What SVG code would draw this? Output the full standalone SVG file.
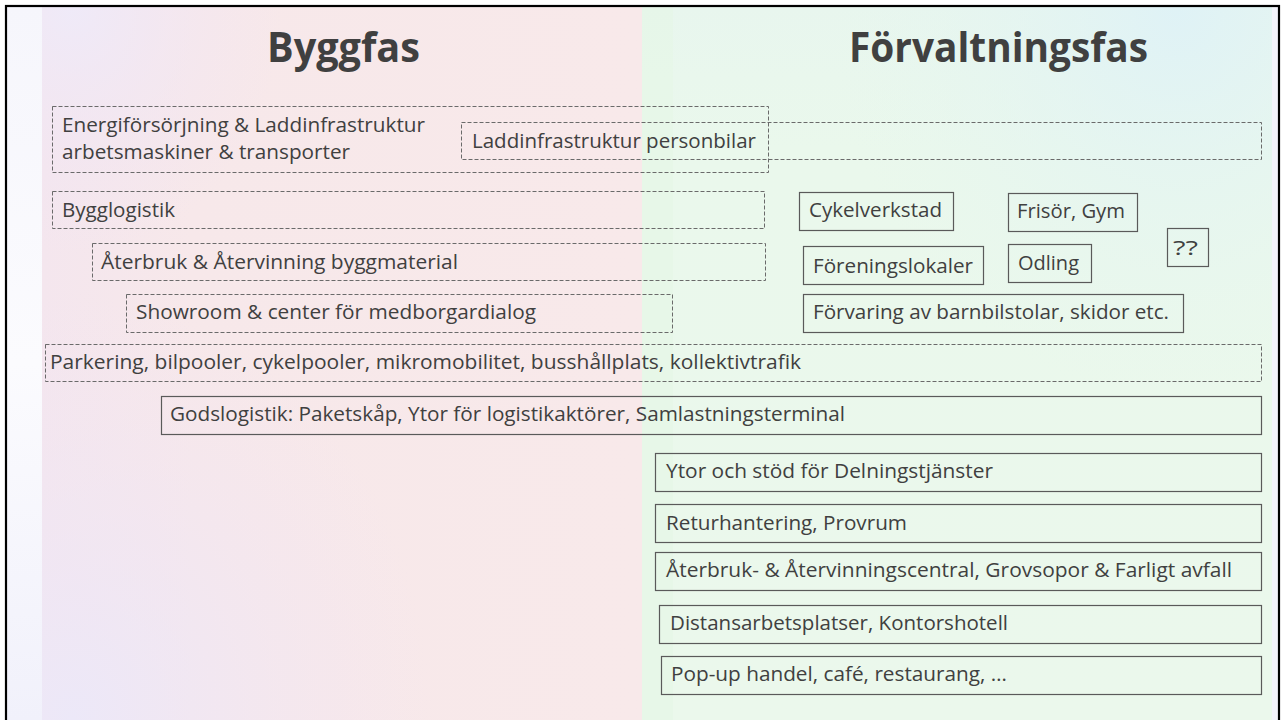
<svg xmlns="http://www.w3.org/2000/svg" width="1283" height="720" viewBox="0 0 1283 720">
<defs>
<style>
.t{font-family:"Open Sans","Noto Sans","Liberation Sans",sans-serif;font-size:19.5px;fill:#404040}
.h{font-family:"Open Sans","Noto Sans","Liberation Sans",sans-serif;font-size:42px;font-weight:700;fill:#404040}
.d{fill:none;stroke:#6a6a6a;stroke-width:1;stroke-dasharray:4 2}
.s{fill:none;stroke:#5a5a5a;stroke-width:1.2}
</style>
<linearGradient id="pinkL" x1="0" y1="0" x2="1" y2="0">
<stop offset="0" stop-color="#f4e6ee"/>
<stop offset="0.25" stop-color="#f7e8ea"/>
<stop offset="1" stop-color="#f8e9ea"/>
</linearGradient>
<radialGradient id="lavBL" cx="0.05" cy="1" r="0.6">
<stop offset="0" stop-color="#ece8f8" stop-opacity="1"/>
<stop offset="1" stop-color="#f2e4f2" stop-opacity="0"/>
</radialGradient>
<radialGradient id="lavTL" cx="0.05" cy="0" r="0.35">
<stop offset="0" stop-color="#efeaf8" stop-opacity="1"/>
<stop offset="1" stop-color="#f2e4f2" stop-opacity="0"/>
</radialGradient>
<linearGradient id="greenR" x1="0" y1="0" x2="0" y2="1">
<stop offset="0" stop-color="#e8f6ee"/>
<stop offset="0.2" stop-color="#eaf8ec"/>
<stop offset="1" stop-color="#ebf8ec"/>
</linearGradient>
<radialGradient id="cyanTR" cx="0.85" cy="0" r="0.55">
<stop offset="0" stop-color="#dff2f6" stop-opacity="1"/>
<stop offset="1" stop-color="#e6f6ef" stop-opacity="0"/>
</radialGradient>
<linearGradient id="strip" x1="0" y1="0" x2="0" y2="1">
<stop offset="0" stop-color="#f6f6fc"/>
<stop offset="0.5" stop-color="#fbfbfe"/>
<stop offset="1" stop-color="#f1f1fb"/>
</linearGradient>
</defs>

<g id="background">
<rect x="0" y="0" width="1283" height="720" fill="#ffffff"/>
<rect x="7" y="7" width="35" height="713" fill="url(#strip)"/>
<rect x="42" y="7" width="600" height="713" fill="url(#pinkL)"/>
<rect x="42" y="7" width="600" height="713" fill="url(#lavBL)"/>
<rect x="42" y="7" width="600" height="713" fill="url(#lavTL)"/>
<rect x="642" y="7" width="630" height="713" fill="url(#greenR)"/>
<rect x="642" y="7" width="31" height="713" fill="#e5f6e7" opacity="0.7"/>
<rect x="642" y="7" width="630" height="713" fill="url(#cyanTR)"/>
<rect x="1272" y="7" width="7" height="713" fill="#f3f3fb"/>
<rect x="6" y="6" width="1273" height="730" fill="none" stroke="#000000" stroke-width="2.2"/>
</g>

<g id="headings">
<text class="h" x="267" y="62" textLength="153" lengthAdjust="spacingAndGlyphs">Byggfas</text>
<text class="h" x="849" y="62" textLength="299" lengthAdjust="spacingAndGlyphs">Förvaltningsfas</text>
</g>

<g id="connectors"></g>

<g id="energi">
<rect class="d" x="52.5" y="106.5" width="716" height="66"/>
<text class="t" x="62" y="132" textLength="363" lengthAdjust="spacingAndGlyphs">Energiförsörjning &amp; Laddinfrastruktur</text>
<text class="t" x="62" y="159" textLength="288" lengthAdjust="spacingAndGlyphs">arbetsmaskiner &amp; transporter</text>
</g>

<g id="laddinfra-personbilar">
<rect class="d" x="461.5" y="122.5" width="800" height="37"/>
<text class="t" x="472" y="148" textLength="284" lengthAdjust="spacingAndGlyphs">Laddinfrastruktur personbilar</text>
</g>

<g id="bygglogistik">
<rect class="d" x="52.5" y="191.5" width="712" height="37"/>
<text class="t" x="62" y="217" textLength="113" lengthAdjust="spacingAndGlyphs">Bygglogistik</text>
</g>

<g id="aterbruk-bygg">
<rect class="d" x="92.5" y="243.5" width="673" height="37"/>
<text class="t" x="101" y="269" textLength="357" lengthAdjust="spacingAndGlyphs">Återbruk &amp; Återvinning byggmaterial</text>
</g>

<g id="showroom">
<rect class="d" x="126.5" y="294.5" width="546" height="38"/>
<text class="t" x="136" y="319" textLength="400" lengthAdjust="spacingAndGlyphs">Showroom &amp; center för medborgardialog</text>
</g>

<g id="parkering">
<rect class="d" x="45.5" y="344.5" width="1216" height="37"/>
<text class="t" x="50" y="369" textLength="751" lengthAdjust="spacingAndGlyphs">Parkering, bilpooler, cykelpooler, mikromobilitet, busshållplats, kollektivtrafik</text>
</g>

<g id="godslogistik">
<rect class="s" x="161.5" y="396.5" width="1100" height="38"/>
<text class="t" x="170" y="421" textLength="675" lengthAdjust="spacingAndGlyphs">Godslogistik: Paketskåp, Ytor för logistikaktörer, Samlastningsterminal</text>
</g>

<g id="cykelverkstad">
<rect class="s" x="799.5" y="192.5" width="154" height="38"/>
<text class="t" x="809" y="217" textLength="133" lengthAdjust="spacingAndGlyphs">Cykelverkstad</text>
</g>

<g id="frisor-gym">
<rect class="s" x="1008.5" y="193.5" width="129" height="38"/>
<text class="t" x="1017" y="218" textLength="108" lengthAdjust="spacingAndGlyphs">Frisör, Gym</text>
</g>

<g id="fragor">
<rect class="s" x="1167.5" y="228.5" width="41" height="38"/>
<text class="t" x="1173" y="255" textLength="25" lengthAdjust="spacingAndGlyphs">??</text>
</g>

<g id="foreningslokaler">
<rect class="s" x="803.5" y="246.5" width="180" height="38"/>
<text class="t" x="813" y="273" textLength="160" lengthAdjust="spacingAndGlyphs">Föreningslokaler</text>
</g>

<g id="odling">
<rect class="s" x="1008.5" y="244.5" width="83" height="38"/>
<text class="t" x="1018" y="270" textLength="61" lengthAdjust="spacingAndGlyphs">Odling</text>
</g>

<g id="forvaring">
<rect class="s" x="803.5" y="294.5" width="380" height="38"/>
<text class="t" x="813" y="319" textLength="356" lengthAdjust="spacingAndGlyphs">Förvaring av barnbilstolar, skidor etc.</text>
</g>

<g id="delningstjanster">
<rect class="s" x="655.5" y="453.5" width="606" height="38"/>
<text class="t" x="666" y="478" textLength="327" lengthAdjust="spacingAndGlyphs">Ytor och stöd för Delningstjänster</text>
</g>

<g id="returhantering">
<rect class="s" x="655.5" y="504.5" width="606" height="38"/>
<text class="t" x="666" y="530" textLength="241" lengthAdjust="spacingAndGlyphs">Returhantering, Provrum</text>
</g>

<g id="aterbrukscentral">
<rect class="s" x="655.5" y="552.5" width="606" height="38"/>
<text class="t" x="666" y="577" textLength="566" lengthAdjust="spacingAndGlyphs">Återbruk- &amp; Återvinningscentral, Grovsopor &amp; Farligt avfall</text>
</g>

<g id="distansarbete">
<rect class="s" x="659.5" y="605.5" width="602" height="38"/>
<text class="t" x="670" y="630" textLength="338" lengthAdjust="spacingAndGlyphs">Distansarbetsplatser, Kontorshotell</text>
</g>

<g id="popup">
<rect class="s" x="661.5" y="656.5" width="600" height="38"/>
<text class="t" x="671" y="681" textLength="336" lengthAdjust="spacingAndGlyphs">Pop-up handel, café, restaurang, …</text>
</g>
</svg>
